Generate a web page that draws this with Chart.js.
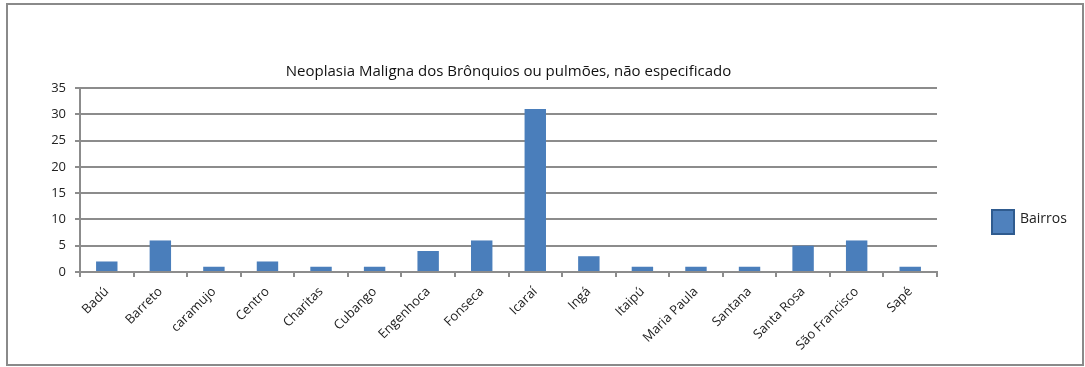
<!DOCTYPE html>
<html>
<head>
<meta charset="utf-8">
<script src="https://cdn.jsdelivr.net/npm/chart.js@4/dist/chart.umd.min.js"></script>
<style>
  html, body { margin: 0; padding: 0; background: #fff; }
  #wrap { width: 1085px; height: 367px; position: relative; }
</style>
</head>
<body>
<div id="wrap"><canvas id="c"></canvas></div>
<script>
// Casos por bairro
const bairros = ["Badú", "Barreto", "caramujo", "Centro", "Charitas", "Cubango", "Engenhoca", "Fonseca",
  "Icaraí", "Ingá", "Itaipú", "Maria Paula", "Santana", "Santa Rosa", "São Francisco", "Sapé"];
const casos = [2, 6, 1, 2, 1, 1, 4, 6, 31, 3, 1, 1, 1, 5, 6, 1];
const seriesName = "Bairros";
const chartTitle = "Neoplasia Maligna dos Brônquios ou pulmões, não especificado";
const yMax = 35;
const yStep = 5;

const FONT = "'Open Sans', Lato, sans-serif";
const BAR = "#4a7ebb";
const GRID = "#8c8c8c";

// Moldura externa e legenda lateral
const frame = {
  id: "frame",
  beforeDraw(chart) {
    const ctx = chart.ctx;
    ctx.save();
    ctx.fillStyle = "#fff";
    ctx.fillRect(0, 0, chart.width, chart.height);
    ctx.strokeStyle = "#8a8a8a";
    ctx.lineWidth = 2;
    ctx.strokeRect(7, 4, 1076, 361);
    ctx.restore();
  },
  afterDraw(chart) {
    const ctx = chart.ctx;
    ctx.save();
    ctx.fillStyle = "#4f81bd";
    ctx.strokeStyle = "#2f5b8f";
    ctx.lineWidth = 2;
    ctx.fillRect(992, 210, 22, 24);
    ctx.strokeRect(992, 210, 22, 24);
    ctx.fillStyle = "#222";
    ctx.font = "14px " + FONT;
    ctx.textBaseline = "middle";
    ctx.textAlign = "left";
    ctx.fillText(seriesName, 1020, 219);
    ctx.restore();
  }
};

new Chart(document.getElementById("c"), {
  type: "bar",
  data: {
    labels: bairros,
    datasets: [{
      label: seriesName,
      data: casos,
      backgroundColor: BAR,
      borderWidth: 0,
      barPercentage: 0.4,
      categoryPercentage: 1.0
    }]
  },
  options: {
    responsive: true,
    maintainAspectRatio: false,
    animation: false,
    layout: { padding: { left: 0, right: 148, top: 0, bottom: 0 } },
    plugins: {
      legend: { display: false },
      tooltip: { enabled: false },
      title: {
        display: true,
        text: chartTitle,
        fullSize: false,
        color: "#111",
        font: { family: FONT, size: 15, weight: "normal" },
        padding: { top: 63, bottom: 7 }
      }
    },
    scales: {
      x: {
        offset: true,
        grid: {
          offset: true,
          drawOnChartArea: false,
          drawTicks: true,
          tickLength: 5,
          color: GRID,
          lineWidth: 2
        },
        border: { color: GRID, width: 2 },
        ticks: {
          autoSkip: false,
          maxRotation: 45,
          minRotation: 45,
          color: "#222",
          font: { family: FONT, size: 13 },
          padding: 7
        },
        afterFit(scale) { scale.height = 95; }
      },
      y: {
        min: 0,
        max: yMax,
        grid: {
          color: GRID,
          lineWidth: 2,
          drawTicks: true,
          tickLength: 5
        },
        border: { color: GRID, width: 2 },
        ticks: {
          stepSize: yStep,
          color: "#222",
          font: { family: FONT, size: 13 },
          padding: 9
        },
        afterFit(scale) { scale.width = 80; }
      }
    }
  },
  plugins: [frame]
});
</script>
</body>
</html>
